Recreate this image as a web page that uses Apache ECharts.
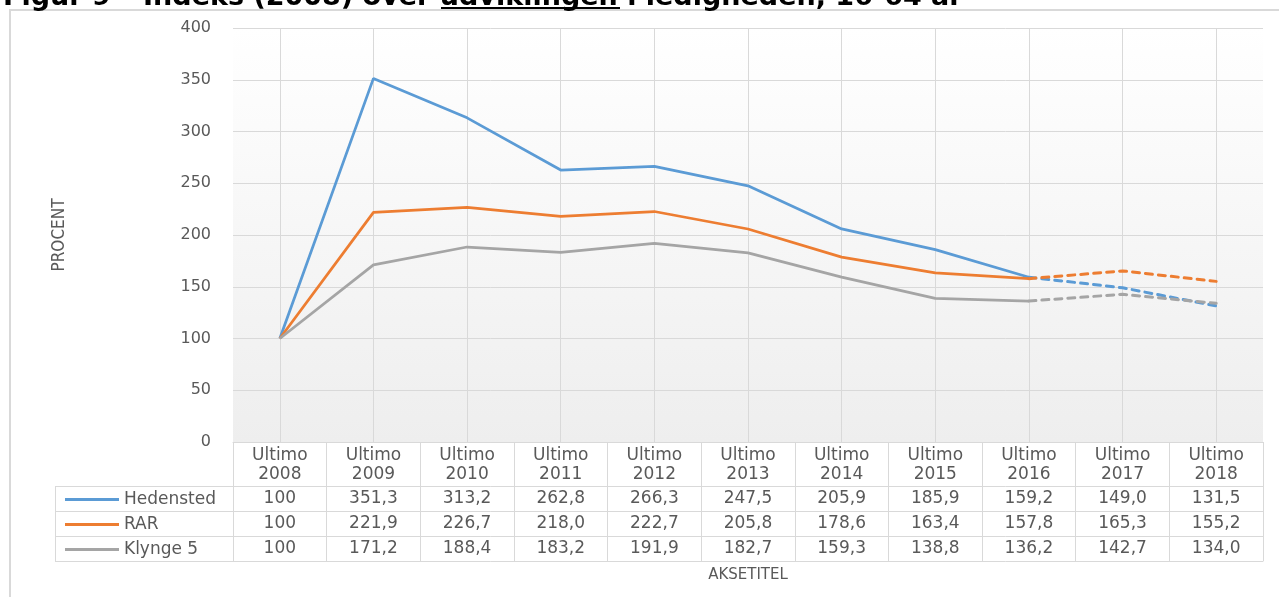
<!DOCTYPE html>
<html>
<head>
<meta charset="utf-8">
<script src="https://cdn.jsdelivr.net/npm/echarts@6/dist/echarts.min.js"></script>
<style>
html,body{margin:0;padding:0;background:#fff;}
#chart{width:1279px;height:597px;}
</style>
</head>
<body>
<div id="chart"></div>
<script>
// kategorier (x-akse)
var years = ['2008','2009','2010','2011','2012','2013','2014','2015','2016','2017','2018'];
var categories = years.map(function(y){ return 'Ultimo\n' + y; });

// indeks-værdier pr. område
var hedensted = [100, 351.3, 313.2, 262.8, 266.3, 247.5, 205.9, 185.9, 159.2, 149.0, 131.5];
var rar       = [100, 221.9, 226.7, 218.0, 222.7, 205.8, 178.6, 163.4, 157.8, 165.3, 155.2];
var klynge5   = [100, 171.2, 188.4, 183.2, 191.9, 182.7, 159.3, 138.8, 136.2, 142.7, 134.0];

var names  = ['Hedensted', 'RAR', 'Klynge 5'];
var colors = ['#5B9BD5', '#ED7D31', '#A5A5A5'];
var rows   = [hedensted, rar, klynge5];

// fra dette indeks er linjen stiplet (prognose)
var dashFrom = 8;

var FONT = 'DejaVu Sans';
var GRAY = '#595959';
var RULE = '#d9d9d9';

function fmt(v, i) {
  // basisåret vises uden decimal
  return i === 0 ? String(v) : v.toFixed(1).replace('.', ',');
}

var myChart = echarts.init(document.getElementById('chart'));

var series = [];
rows.forEach(function(row, k) {
  series.push({
    name: names[k], type: 'line', xAxisIndex: 0, symbol: 'none',
    lineStyle: {color: colors[k], width: 2.75},
    itemStyle: {color: colors[k]},
    data: row.map(function(v, i){ return i <= dashFrom ? v : '-'; })
  });
  series.push({
    name: names[k], type: 'line', xAxisIndex: 0, symbol: 'none',
    lineStyle: {color: colors[k], width: 3, type: [7, 6], cap: 'round'},
    itemStyle: {color: colors[k]},
    data: row.map(function(v, i){ return i >= dashFrom ? v : '-'; })
  });
});

// tabel-rækker bygges som ekstra x-akser under plottet
var tableAxes = rows.map(function(row, k) {
  return {
    type: 'category', position: 'bottom', offset: 44 + k * 25,
    data: row.map(fmt),
    axisLine: {show: true, lineStyle: {color: RULE, width: 1}},
    axisTick: {show: true, length: 25, lineStyle: {color: RULE}},
    axisLabel: {color: GRAY, fontFamily: FONT, fontSize: 17, margin: 4, lineHeight: 17},
    splitLine: {show: false}
  };
});

myChart.setOption({
  animation: false,
  backgroundColor: '#fff',
  title: {
    text: 'Figur 9 – Indeks (2008) over udviklingen i ledigheden, 16-64 år',
    left: -2, top: -21,
    textStyle: {fontFamily: FONT, fontWeight: 'bold', fontSize: 27, color: '#000'}
  },
  legend: {
    data: names, orient: 'vertical', left: 60, top: 482,
    icon: 'rect', itemWidth: 54, itemHeight: 3, itemGap: 0,
    selectedMode: false,
    textStyle: {color: GRAY, fontFamily: FONT, fontSize: 17, lineHeight: 25}
  },
  grid: {
    left: 233, right: 16, top: 28, bottom: 155,
    show: true, borderWidth: 0,
    backgroundColor: new echarts.graphic.LinearGradient(0, 0, 0, 1, [
      {offset: 0, color: '#ffffff'},
      {offset: 1, color: '#eeeeee'}
    ])
  },
  xAxis: [{
    type: 'category', position: 'bottom', data: categories,
    axisLine: {show: true, lineStyle: {color: RULE, width: 1}},
    axisTick: {show: true, length: 44, lineStyle: {color: RULE}},
    axisLabel: {color: GRAY, fontFamily: FONT, fontSize: 17, margin: 4, lineHeight: 19},
    splitLine: {show: true, alignWithLabel: true, lineStyle: {color: RULE, width: 1}}
  }].concat(tableAxes).concat([{
    type: 'category', position: 'bottom', offset: 119, data: categories,
    axisLine: {show: true, lineStyle: {color: RULE, width: 1}},
    axisTick: {show: false}, axisLabel: {show: false}, splitLine: {show: false},
    name: 'AKSETITEL', nameLocation: 'middle', nameGap: 7,
    nameTextStyle: {color: GRAY, fontFamily: FONT, fontSize: 15}
  }]),
  yAxis: {
    type: 'value', min: 0, max: 400, interval: 50,
    axisLine: {show: false}, axisTick: {show: false},
    axisLabel: {color: GRAY, fontFamily: FONT, fontSize: 16, margin: 22},
    splitLine: {lineStyle: {color: RULE, width: 1}},
    name: 'PROCENT', nameLocation: 'middle', nameRotate: 90, nameGap: 165,
    nameTextStyle: {color: GRAY, fontFamily: '"DejaVu Sans Condensed", "Liberation Sans Narrow", Roboto, sans-serif', fontSize: 17}
  },
  graphic: [
    // ramme
    {type: 'rect', shape: {x: 10, y: 10, width: 1300, height: 700}, style: {fill: 'none', stroke: RULE, lineWidth: 2}, silent: true},
    // understregning i titlen
    {type: 'rect', shape: {x: 441, y: 7, width: 179, height: 2}, style: {fill: '#000'}, silent: true},
    // tabelkolonnen med signaturer
    {type: 'line', shape: {x1: 55, y1: 486.5, x2: 233, y2: 486.5}, style: {stroke: RULE, lineWidth: 1}, silent: true},
    {type: 'line', shape: {x1: 55, y1: 511.5, x2: 233, y2: 511.5}, style: {stroke: RULE, lineWidth: 1}, silent: true},
    {type: 'line', shape: {x1: 55, y1: 536.5, x2: 233, y2: 536.5}, style: {stroke: RULE, lineWidth: 1}, silent: true},
    {type: 'line', shape: {x1: 55, y1: 561.5, x2: 233, y2: 561.5}, style: {stroke: RULE, lineWidth: 1}, silent: true},
    {type: 'line', shape: {x1: 55.5, y1: 486, x2: 55.5, y2: 562}, style: {stroke: RULE, lineWidth: 1}, silent: true}
  ],
  series: series
});
</script>
</body>
</html>
